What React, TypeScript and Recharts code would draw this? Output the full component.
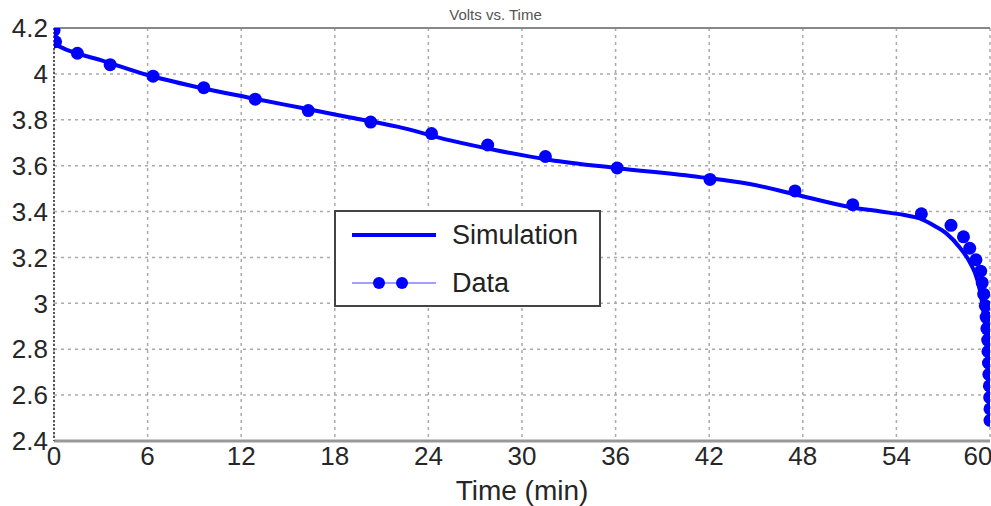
import React from 'react';
import {
  ComposedChart,
  Line,
  XAxis,
  YAxis,
  CartesianGrid,
  ReferenceLine,
} from 'recharts';

// simulated discharge curve
const simTime = [0, 1, 3, 6, 9, 12.6, 16, 19, 22, 25.4, 28.5, 31.8, 36, 41.4, 44.6, 47.8, 51, 53, 54.5, 55.5, 56.5, 57.2, 58.1, 58.7, 59.2, 59.5, 59.75, 59.9, 60];
const simVolts = [4.13, 4.1, 4.06, 3.995, 3.945, 3.895, 3.85, 3.81, 3.77, 3.71, 3.665, 3.625, 3.59, 3.55, 3.52, 3.47, 3.42, 3.4, 3.385, 3.37, 3.335, 3.305, 3.24, 3.18, 3.1, 3.0, 2.85, 2.65, 2.47];

// measured points
const dataTime = [0, 0.1, 1.5, 3.6, 6.35, 9.6, 12.9, 16.3, 20.3, 24.2, 27.8, 31.5, 36.1, 42.05, 47.5, 51.2, 55.6, 57.5, 58.3, 58.7, 59.1, 59.4, 59.5, 59.6, 59.7, 59.75, 59.8, 59.85, 59.87, 59.9, 59.93, 59.96, 59.98, 60, 60];
const dataVolts = [4.19, 4.14, 4.09, 4.04, 3.99, 3.94, 3.89, 3.84, 3.79, 3.74, 3.69, 3.64, 3.59, 3.54, 3.49, 3.43, 3.39, 3.34, 3.29, 3.24, 3.19, 3.14, 3.09, 3.04, 2.99, 2.94, 2.89, 2.84, 2.79, 2.74, 2.69, 2.64, 2.59, 2.54, 2.49];

const xTicks = [0, 6, 12, 18, 24, 30, 36, 42, 48, 54, 60];
const yTicks = [2.4, 2.6, 2.8, 3, 3.2, 3.4, 3.6, 3.8, 4, 4.2];

const simData = simTime.map((t, i) => ({ t, v: simVolts[i] }));
const pointData = dataTime.map((t, i) => ({ t, v: dataVolts[i] }));

const FONT = '"Liberation Sans", Arial, sans-serif';
const BLUE = '#0000ff';

function LegendBox() {
  return (
    <svg
      width={267}
      height={97}
      style={{ position: 'absolute', left: 334, top: 210 }}
    >
      <rect x={1} y={1} width={265} height={95} fill="#fff" stroke="#444" strokeWidth={2} />
      <line x1={18} y1={25} x2={102} y2={25} stroke={BLUE} strokeWidth={4} />
      <text x={118} y={34} fontFamily={FONT} fontSize={27} fill="#222">Simulation</text>
      <line x1={18} y1={73} x2={102} y2={73} stroke="#8080ff" strokeWidth={1.5} />
      <circle cx={45} cy={73} r={6} fill={BLUE} />
      <circle cx={68} cy={73} r={6} fill={BLUE} />
      <text x={118} y={82} fontFamily={FONT} fontSize={27} fill="#222">Data</text>
    </svg>
  );
}

export default function App() {
  return (
    <div style={{ position: 'absolute', left: 0, top: 0, width: 991, height: 506, background: '#fff' }}>
      <ComposedChart
        width={991}
        height={506}
        margin={{ top: 28, right: 1, bottom: 0, left: 0 }}
        style={{ position: 'absolute', left: 0, top: 0 }}
      >
        <CartesianGrid stroke="#aaa" strokeDasharray="3 4" strokeWidth={1.5} />
        <XAxis
          type="number"
          dataKey="t"
          domain={[0, 60]}
          ticks={xTicks}
          allowDataOverflow
          height={65}
          tickSize={0}
          tickMargin={6}
          axisLine={{ stroke: '#999', strokeWidth: 3 }}
          tick={{ fill: '#262626', fontSize: 26, fontFamily: FONT }}
          label={{ value: 'Time (min)', position: 'insideBottom', offset: 6, fill: '#262626', fontSize: 28, fontFamily: FONT }}
        />
        <YAxis
          type="number"
          dataKey="v"
          domain={[2.4, 4.2]}
          ticks={yTicks}
          allowDataOverflow
          width={54}
          tickSize={0}
          tickMargin={6}
          axisLine={{ stroke: '#555', strokeWidth: 2, strokeDasharray: '2 2' }}
          tickFormatter={(v: number) => String(v)}
          tick={{ fill: '#262626', fontSize: 26, fontFamily: FONT }}
        />
        <ReferenceLine y={4.2} stroke="#888" strokeWidth={2} />
        <Line
          data={simData}
          dataKey="v"
          type="monotone"
          stroke={BLUE}
          strokeWidth={4}
          dot={false}
          isAnimationActive={false}
        />
        <Line
          data={pointData}
          dataKey="v"
          type="linear"
          stroke="none"
          dot={{ r: 6.5, fill: BLUE, stroke: 'none' }}
          isAnimationActive={false}
        />
      </ComposedChart>
      <div
        style={{
          position: 'absolute',
          top: 6,
          left: 0,
          width: 991,
          textAlign: 'center',
          fontFamily: FONT,
          fontSize: 15,
          color: '#555',
        }}
      >
        Volts vs. Time
      </div>
      <LegendBox />
    </div>
  );
}
